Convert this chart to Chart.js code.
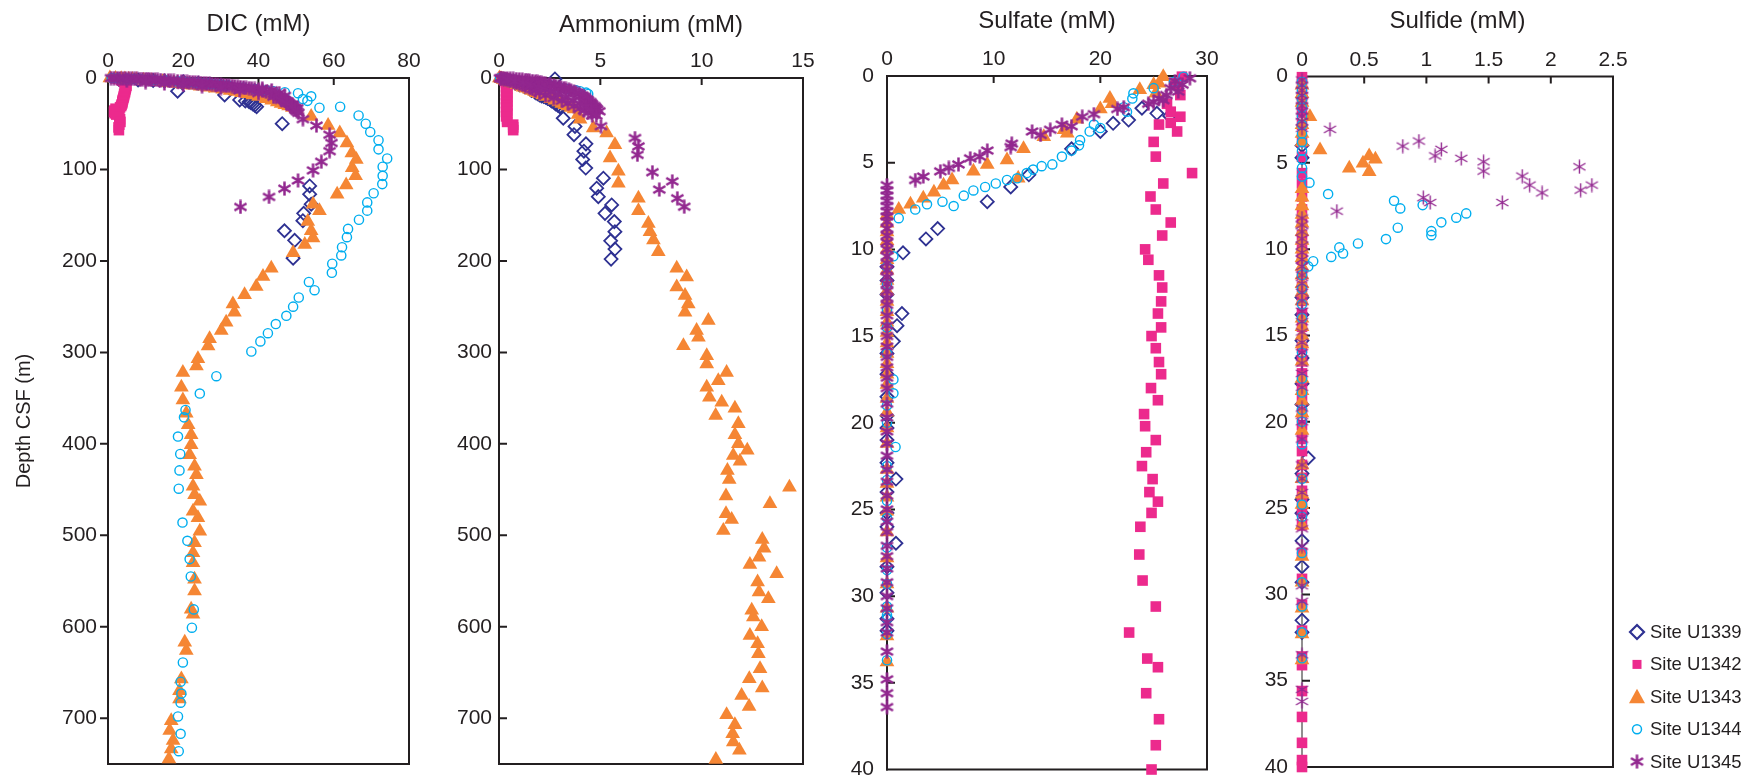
<!DOCTYPE html>
<html>
<head>
<meta charset="utf-8">
<title>Pore-water profiles, Sites U1339–U1345</title>
<script src="https://cdn.jsdelivr.net/npm/chart.js@4.4.1/dist/chart.umd.min.js"></script>
<style>
  html, body { margin: 0; padding: 0; background: #ffffff; overflow: hidden; }
  #wrap { position: relative; width: 1748px; height: 779px; }
  #wrap canvas { position: absolute; left: 0; top: 0; }
</style>
</head>
<body>
<div id="wrap">
  <canvas id="cDic" width="1748" height="779"></canvas>
  <canvas id="cNh4" width="1748" height="779"></canvas>
  <canvas id="cSo4" width="1748" height="779"></canvas>
  <canvas id="cH2s" width="1748" height="779"></canvas>
</div>
<script>
// ---------------------------------------------------------------
// Sites and tick labels
// ---------------------------------------------------------------
const sites = ['Site U1339', 'Site U1342', 'Site U1343', 'Site U1344', 'Site U1345'];

const dicTicks = [0, 20, 40, 60, 80];
const nh4Ticks = [0, 5, 10, 15];
const so4Ticks = [0, 10, 20, 30];
const h2sTicks = [0, 0.5, 1, 1.5, 2, 2.5];
const deepDepthTicks = [0, 100, 200, 300, 400, 500, 600, 700];
const shallowDepthTicks = [0, 5, 10, 15, 20, 25, 30, 35, 40];

// ---------------------------------------------------------------
// Measurements as [concentration (mM), depth CSF (m)]
// ---------------------------------------------------------------

// DIC (mM)
const dicU1339 = [[3,1.86],[8,2.15],[12,2.73],[15,3.2],[20,4.2],[24,5.7],[27,7.25],[30,8.8],[32,10.2],[18.5,14.4],[31,18.5],[35,24],[36.5,25.2],[37.5,26],[38,27],[38.5,28.3],[39,29.8],[39.5,31.3],[46.3,50],[53.6,118],[53.6,127],[54,138],[52,148],[51.8,156],[46.9,167],[49.6,177.5],[49.2,197]];
const dicU1342 = [[2.0,0.04],[2.5,0.42],[3.0,1.1],[3.5,2.06],[3.8,2.8],[4.2,3.8],[4.5,4.65],[4.7,5.6],[4.8,6.95],[4.9,8.45],[4.8,10],[4.7,11.5],[4.6,13],[4.5,14.5],[4.5,15.7],[4.3,17.2],[4.3,18.7],[4.2,20.2],[4.1,21.7],[4.0,23.25],[3.9,24.55],[3.8,26],[3.8,27.6],[3.6,29.1],[3.5,30.6],[3.2,32.1],[2.0,33.6],[1.7,35.6],[1.6,37.1],[1.8,38.6],[2.2,40],[3.0,42],[3.2,45],[3.3,48],[3.0,51],[2.8,54],[2.9,57]];
const dicU1343 = [[0.5,0.04],[2,0.42],[3.5,0.8],[4.5,1.0],[5.5,1.3],[6.5,1.6],[7.5,1.9],[9.5,2.5],[11.5,3.1],[12.5,3.5],[14.5,4.2],[16,4.85],[17.5,5.5],[18.5,6.0],[20,6.7],[21.5,7.4],[22.5,8.0],[24.5,9.0],[26.5,10],[28.5,11.2],[30.5,12.4],[32.5,13.6],[34,14.8],[35.5,16],[37,17.2],[38.5,18.6],[40,20.3],[42,22.7],[43.5,24.3],[45,26.3],[46,27.8],[47,29.3],[48,30.7],[49,32.3],[50,33.8],[54,42],[58.5,52],[61.6,60],[63.5,71],[64.8,82],[66,89],[64.9,98],[65.8,107],[63.3,117],[60.9,127],[54.5,138],[56.2,145],[53.1,157],[54,167],[54.5,175],[52.3,182],[49.2,191],[43.4,208],[41.2,217],[39.4,228],[36.3,237],[33.2,247],[33.6,256],[31.4,267],[30.1,276],[27,285],[26.6,293],[23.9,307],[23.5,315],[19.9,322],[19.5,338],[19.9,352],[20.8,366.5],[21.3,379],[22.1,390],[22.1,401],[21.7,412],[23,424.6],[23.5,433.7],[22.6,446.4],[23,455.5],[24.4,462.7],[22.6,473.6],[23.9,480.9],[24.4,495.4],[23,508.1],[22.6,519],[22.6,529.9],[23,548],[23,560.8],[22.1,580.7],[22.6,586.2],[20.4,617],[20.8,626],[19.5,657],[19,670],[19,679],[16.8,702.6],[16.4,713.5],[17.3,724.4],[16.8,733.5],[16.2,744.4]];
const dicU1344 = [[1,0.04],[2.5,0.33],[5,0.7],[7,1.0],[9,1.3],[11,1.8],[12.5,2.06],[15,2.8],[16,3.0],[18.5,3.7],[19.5,4.0],[20.5,4.3],[21.5,4.65],[23,5.1],[24,5.4],[25.5,5.9],[26.5,6.2],[27.5,6.6],[28.5,6.9],[29.5,7.25],[30.5,7.7],[32,8.2],[36,10.4],[39,12],[42,13.5],[44,14.5],[47,15.5],[50.5,16.6],[54,20],[51.8,23],[53,25],[56.2,32.5],[61.7,31.4],[66.6,41],[68.5,50],[69.7,59],[71.9,68],[71.9,78],[74.2,88],[73,97],[73,107],[72.9,116],[70.6,126],[68.9,136],[68.9,145],[66.7,155],[63.8,165],[63.5,174],[62.2,185],[62,194],[59.6,203],[59.5,213],[53.4,223],[54.9,232],[50.7,240],[49.2,250],[47.4,260],[44.6,269],[42.5,279],[40.5,288],[38.1,299],[28.8,326],[24.4,345],[20.6,363],[20.2,371],[18.6,392],[19.2,411],[19,429],[18.8,449],[19.8,486],[21.1,506],[21.7,526],[22,545],[22.8,581],[22.3,601],[19.9,639],[19.3,660],[19.5,673],[19.3,683],[18.6,698],[19.3,717],[18.8,736]];
const dicU1345 = [[0.8,0.13],[2.5,0.3],[4,0.5],[5.5,0.7],[7,0.9],[8.5,1.1],[10,1.3],[11,1.5],[12.5,1.8],[14,2.2],[16,2.8],[17.5,3.2],[19.5,3.9],[21,4.3],[22.5,4.75],[24,5.3],[25.5,5.8],[27,6.3],[28.5,6.9],[30,7.5],[31.5,8.1],[33,8.8],[34.5,9.6],[36,10.4],[37.5,11.2],[39,12],[40,12.8],[41,13.8],[42,15],[43,16.2],[44,17.4],[44.8,18.9],[45.5,20.5],[46.2,21.9],[46.8,23.4],[47.3,25],[47.8,26.3],[48.2,27.7],[48.7,29.2],[49.1,30.7],[49.5,32.1],[49.8,33.2],[50,34.8],[50.2,36.4],
  [1.6,0.2],[3.2,0.4],[4.7,0.6],[6.2,0.8],[7.7,1.0],[9.2,1.2],[10.5,1.4],[11.7,1.65],[13.2,2.0],[15,2.5],[16.7,3.0],[18.5,3.5],[20.2,4.1],[21.7,4.5],[23.2,5.0],[24.7,5.5],[26.2,6.0],[27.7,6.6],[29.2,7.2],[30.7,7.8],[32.2,8.4],[33.7,9.2],[35.2,10],[36.7,10.8],[38.2,11.6],
  [5,3],[10,4.5],[15,6],[20,7.5],[25,9],[30,11],[35,13.5],[40,16.5],[44,20.5],[47,25],[49,29],[50.3,33],
  [41,11.5],[43.5,13.5],[45.5,16.5],[47,19.5],[46,24],[47.5,27.5],[48.8,31],[49.8,34.5],[50.6,38],[51.8,45],[55.4,52],[58.9,62],[59.4,71],[58.9,80],[56.7,91.5],[54.5,101],[50.5,112],[46.9,121],[42.8,130],[35.2,141]];

// Ammonium (mM)
const nh4U1339 = [[2.76,1.0],[0.3,1.86],[0.45,2.73],[0.6,4.2],[0.8,5.7],[1.0,7.25],[1.25,9.4],[1.6,13.7],[1.8,16],[1.9,17.2],[2.0,18.5],[2.1,19.6],[2.2,20.3],[2.3,21],[2.4,22.3],[2.5,23.25],[2.55,24],[2.6,25.2],[2.7,26],[2.75,26.95],[2.8,28.3],[2.9,29.8],[3.0,31.3],[3.05,32],[3.17,44],[3.75,53],[3.7,62],[4.29,72],[4.19,80],[4.13,89],[4.28,98.5],[5.15,109.5],[4.82,120.5],[4.9,129.7],[5.56,138.8],[5.23,148],[5.69,157],[5.72,168],[5.51,178],[5.72,187],[5.53,198]];
const nh4U1342 = [[0.15,0.04],[0.2,0.42],[0.25,1.1],[0.3,2.06],[0.3,2.8],[0.35,3.8],[0.35,4.65],[0.35,5.6],[0.4,6.95],[0.4,8.45],[0.35,10],[0.4,11.5],[0.4,13],[0.35,14.5],[0.4,15.7],[0.4,17.2],[0.35,18.7],[0.4,20.2],[0.4,21.7],[0.35,23.25],[0.4,24.55],[0.4,26],[0.35,27.6],[0.4,29.1],[0.4,30.6],[0.35,32.1],[0.4,33.6],[0.4,35.6],[0.35,37.1],[0.4,38.6],[0.4,40],[0.35,42],[0.4,45],[0.4,48],[0.7,51],[0.7,54],[0.7,57]];
const nh4U1343 = [[0.02,0.04],[0.1,0.8],[0.2,1.6],[0.3,2.5],[0.45,3.5],[0.6,4.85],[0.75,6.0],[0.9,7.4],[1.1,9.0],[1.2,10],[1.35,11.2],[1.5,12.4],[1.6,13.6],[1.75,14.8],[1.85,16],[2.0,17.2],[2.15,18.6],[2.3,20.3],[2.55,22.7],[2.75,24.3],[2.95,26.3],[3.1,27.8],[3.25,29.3],[3.4,30.7],[3.55,32.3],[3.7,33.8],[3.9,40],[4.0,45],[4.65,54.6],[5.31,60],[5.72,73],[5.48,87.5],[5.89,102],[5.89,115],[6.88,131.5],[6.88,145],[7.37,159],[7.45,168],[7.62,177],[7.86,190],[8.77,208],[9.26,217.6],[8.77,228.6],[9.18,237.7],[9.34,247],[9.18,256],[10.33,265],[9.75,276],[9.84,283.5],[9.1,292.7],[10.25,303.7],[10.25,312.8],[11.23,322],[10.82,331],[10.25,338.2],[10.38,349],[10.99,354.5],[11.64,361],[10.69,369],[11.81,378],[11.64,390],[11.81,400],[12.25,407],[11.56,412.7],[11.89,419],[11.27,429],[11.36,439],[14.33,447.3],[11.2,457],[13.37,465.6],[11.2,476.5],[11.48,482.7],[11.07,494.7],[12.99,504.5],[13.08,514],[12.83,524],[12.38,532],[13.7,542],[12.76,551],[12.83,562],[13.29,569.4],[12.47,582],[12.55,589.4],[12.96,600],[12.38,609.4],[12.76,618.6],[12.8,629.5],[12.88,645.9],[12.35,656.8],[12.99,667],[11.97,675],[12.34,687],[11.23,696.2],[11.64,707],[11.53,717],[11.56,726],[11.86,735],[10.7,745]];
const nh4U1344 = [[0.05,0.04],[0.3,0.7],[0.5,1.3],[0.75,2.06],[1.0,3.0],[1.3,4.0],[1.5,4.65],[1.7,5.4],[1.95,6.2],[2.15,6.9],[2.4,7.7],[2.55,8.2],[3.0,10.4],[3.4,12],[3.8,13.5],[4.0,14.5],[4.3,16],[4.4,17.5]];
const nh4U1345 = [[0.1,0.13],[0.4,0.5],[0.7,0.9],[1.0,1.5],[1.3,2.2],[1.5,2.8],[1.8,3.9],[2.0,4.75],[2.2,5.8],[2.45,6.9],[2.7,8.1],[2.95,9.6],[3.2,11.2],[3.45,12.8],[3.7,15],[3.95,17.4],[4.2,20.5],[4.35,23.4],[4.5,26.3],[4.6,29.2],[4.75,32.1],[4.85,34.8],[4.95,36.4],
  [0.25,0.3],[0.55,0.7],[0.85,1.2],[1.15,1.8],[1.4,2.5],[1.65,3.3],[1.9,4.3],[2.1,5.2],[2.3,6.3],[2.55,7.5],[2.8,8.8],[3.05,10.4],[3.3,12],[3.55,13.8],[3.8,16.2],[4.1,19],[4.25,22],[4.4,25],[4.55,27.7],[4.7,30.7],[4.8,33.5],
  [0.05,0.3],[0.15,0.7],[0.25,1.1],[0.35,1.8],[0.55,3.2],[0.7,4.3],[0.85,5.3],[1.0,6.3],[1.15,7.5],[1.3,8.8],[1.5,10.4],[1.65,12],[1.8,13.8],[2.0,16.2],[2.3,18.9],[2.7,21.9],[3.1,25],[3.4,27.7],[3.7,30.7],[4.0,33.2],[4.2,35.5],[4.4,38],[4.6,41],
  [0.45,2.2],[0.8,3.8],[1.2,5.5],[1.6,7.8],[1.95,10],[2.25,12.5],[2.55,15],[2.9,18],[3.3,21],[3.65,24.5],[4.0,28],[4.3,31.5],[4.55,36],[4.8,41],[5.03,52.7],[6.71,65.6],[6.88,74.7],[6.83,84],[7.57,103],[8.55,113],[7.91,122],[8.8,131.5],[9.14,140.7]];

// Sulfate (mM)
const so4U1339 = [[23.9,1.86],[25.3,2.15],[26.5,2.3],[22.65,2.54],[21.2,2.73],[20,3.2],[17.3,4.2],[13.3,5.7],[11.6,6.4],[9.4,7.25],[4.75,8.8],[3.65,9.4],[1.5,10.2],[0,11.0],[0,11.8],[0,12.6],[1.4,13.7],[0.94,14.4],[0.6,15.3],[0,16],[0,17.2],[0,18.5],[0,19.6],[0,20.3],[0,21],[0,22.3],[0.84,23.25],[0,24],[0,25.2],[0,26],[0.84,26.95],[0,28.3],[0,29.8],[0,31.3],[0,32]];
const so4U1342 = [[27.65,0.04],[26.9,0.42],[27.2,0.5],[27.5,1.1],[26.25,1.6],[26.6,2.06],[27.5,2.35],[25.5,2.8],[26.6,2.7],[27.2,3.2],[25.0,3.8],[25.2,4.65],[28.6,5.6],[25.9,6.2],[24.7,6.95],[25.2,7.7],[26.6,8.45],[25.8,9.2],[24.2,10.0],[24.5,10.6],[25.5,11.5],[25.8,12.2],[25.7,13.0],[25.4,13.7],[25.7,14.5],[24.8,15.0],[25.2,15.7],[25.5,16.5],[25.7,17.2],[24.75,18.0],[25.4,18.7],[24.1,19.5],[24.2,20.2],[25.2,21.0],[24.3,21.7],[23.9,22.5],[24.9,23.25],[24.6,24.0],[25.4,24.55],[24.8,25.2],[23.75,26.0],[23.65,27.6],[23.96,29.1],[25.2,30.6],[22.7,32.1],[24.4,33.6],[25.4,34.1],[24.3,35.6],[25.5,37.1],[25.2,38.6],[24.8,40.0]];
const so4U1343 = [[25.9,0.04],[25.5,0.42],[25,0.5],[23.7,0.8],[25.2,1.0],[20.9,1.3],[21.1,1.6],[20,1.9],[17.8,2.5],[16.6,3.1],[16.9,3.3],[14.7,3.5],[12.8,4.2],[11.25,4.85],[9.4,5.1],[8.1,5.5],[12.3,5.9],[6.1,6.0],[5.3,6.3],[4.4,6.7],[3.4,7.05],[2.2,7.4],[1.1,7.7],[0,8.0],[0,8.5],[0,9.0],[0,9.5],[0,10],[0,10.6],[0,11.2],[0,11.8],[0,12.4],[0,13],[0,13.6],[0,14.2],[0,14.8],[0,15.4],[0,16],[0,16.6],[0,17.2],[0,17.8],[0,18.6],[0,19.4],[0,20.3],[0,21.2],[0,22.7],[0,23.5],[0,24.3],[0,25.1],[0,26.3],[0,27.8],[0,29.3],[0,30.7],[0,32.3],[0,33.8]];
const so4U1344 = [[27.8,0.04],[26.9,0.33],[25,0.7],[23.1,1.0],[23,1.3],[22.2,1.8],[22.5,2.06],[19.4,2.8],[20,3.0],[19,3.2],[18.1,3.7],[18,4.0],[17.3,4.3],[16.4,4.65],[15.5,5.1],[14.5,5.2],[13.7,5.4],[13.1,5.6],[12.2,5.9],[11.25,6.0],[10.2,6.2],[9.2,6.4],[8.1,6.6],[7.2,6.9],[5.2,7.25],[3.75,7.4],[6.25,7.5],[2.65,7.7],[1.1,8.2],[0.6,10.4],[0,11],[0,12],[0,13.5],[0,14.5],[0,16],[0.6,17.5],[0.6,18.3],[0,19],[0,20],[0.8,21.4],[0,22.5],[0,23.3],[0,24.5],[0,25.5],[0,27.2],[0,28.5],[0,29.3],[0,30.6],[0,31.1],[0,31.3],[0,32.2],[0,33.7]];
const so4U1345 = [[28.4,0.13],[27,0.3],[27.7,0.5],[26.6,0.7],[27.3,0.9],[26.2,1.1],[25.5,1.3],[25.9,1.4],[25,1.5],[24.5,1.6],[22.2,1.8],[21.6,1.9],[19.4,2.2],[18.3,2.35],[16.4,2.8],[17.3,2.9],[15.3,3.1],[13.6,3.2],[14.4,3.4],[11.7,3.9],[11.6,4.1],[9.4,4.3],[8.7,4.65],[7.8,4.75],[6.7,5.1],[5.8,5.3],[5,5.5],[3.4,5.8],[2.65,6.0],[0,6.3],[0,6.6],[0,6.9],[0,7.2],[0,7.5],[0,7.8],[0,8.1],[0,8.4],[0,8.8],[0,9.2],[0,9.6],[0,10],[0,10.4],[0,10.8],[0,11.2],[0,11.6],[0,12],[0,12.4],[0,12.8],[0,13.2],[0,13.8],[0,14.4],[0,15],[0,15.6],[0,16.2],[0,16.8],[0,17.4],[0,18],[0,18.9],[0,19.7],[0,20.5],[0,21.2],[0,21.9],[0,22.7],[0,23.4],[0,24.2],[0,25],[0,25.7],[0,26.3],[0,27.1],[0,27.7],[0,28.4],[0,29.2],[0,30],[0,30.7],[0,31.5],[0,32.1],[0,33.2],[0,34.8],[0,35.6],[0,36.4]];

// Sulfide (mM)
const h2sU1339 = [[0,4.0],[0,4.7],[0,12.8],[0,13.8],[0,15.3],[0,16.3],[0,17.8],[0,19.0],[0.05,22.1],[0,23.0],[0,24.5],[0,25.3],[0,26.9],[0,28.4],[0,29.3],[0,31.5],[0,32.2]];
const h2sU1342 = [[0,0.04],[0,0.42],[0,1.1],[0,1.6],[0,2.06],[0,2.8],[0,3.8],[0,4.65],[0,5.6],[0,6.2],[0,6.95],[0,7.7],[0,8.45],[0,9.2],[0,10],[0,10.6],[0,11.5],[0,12.2],[0,13],[0,13.7],[0,14.5],[0,15.7],[0,16.5],[0,17.2],[0,18],[0,18.7],[0,19.5],[0,20.2],[0,21],[0,21.7],[0,22.5],[0,23.25],[0,24],[0,24.55],[0,25.2],[0,26],[0,27.6],[0,29.1],[0,30.6],[0,32.1],[0,33.6],[0,34.1],[0,35.6],[0,37.1],[0,38.6],[0,39.6],[0,40]];
const h2sU1343 = [[0,0.5],[0,1.0],[0,1.5],[0.064,2.33],[0,2.8],[0,3.3],[0,3.8],[0.145,4.26],[0.54,4.6],[0.59,4.8],[0.49,5.03],[0.38,5.32],[0.54,5.52],[0,6.5],[0,7.0],[0,7.5],[0,8.0],[0,8.5],[0,9.0],[0,9.5],[0,10],[0,10.5],[0,11],[0,11.5],[0,12],[0,12.5],[0,13],[0,14],[0,14.5],[0,15],[0,15.5],[0,16.5],[0,17.5],[0,18.2],[0,18.8],[0,19.5],[0,20.5],[0,22.5],[0,23.3],[0,24.2],[0,24.8],[0,26],[0,27.8],[0,29.3],[0,30.8],[0,32.3],[0,33.8]];
const h2sU1344 = [[0,0.3],[0,0.8],[0,1.3],[0,1.8],[0,2.3],[0,2.8],[0,3.3],[0,3.8],[0,4.3],[0,4.8],[0,5.3],[0,5.8],[0.06,6.15],[0.21,6.81],[0.74,7.2],[0.97,7.45],[0.79,7.64],[1.32,7.93],[1.24,8.18],[1.12,8.45],[0.77,8.76],[1.04,8.96],[1.04,9.19],[0.675,9.42],[0.45,9.67],[0.30,9.9],[0.33,10.25],[0.235,10.45],[0.09,10.7],[0.05,11.0],[0,11.5],[0,12.3],[0,13.2],[0,14.0],[0,16.0],[0,17.5],[0,18.3],[0,19.3],[0,20.0],[0,21.3],[0,23.3],[0,24.8],[0,25.5],[0,27.6],[0,29.3],[0,30.7],[0,32.2],[0,33.7]];
const h2sU1345 = [[0,0.2],[0,0.5],[0,0.8],[0,1.1],[0,1.4],[0,1.7],[0,2.0],[0,2.3],[0,2.6],[0,3.0],[0.225,3.06],[0.94,3.74],[0.81,4.03],[1.12,4.22],[1.07,4.6],[1.28,4.74],[1.46,4.94],[2.23,5.23],[1.46,5.48],[1.77,5.77],[1.83,6.29],[2.33,6.29],[2.24,6.58],[1.93,6.74],[0.975,7.02],[1.03,7.3],[1.61,7.3],[0.28,7.8],[0,8.2],[0,8.6],[0,9.0],[0,9.4],[0,9.8],[0,10.2],[0,10.6],[0,11.0],[0,11.5],[0,12.0],[0,12.5],[0,13.0],[0,13.6],[0,14.2],[0,14.8],[0,15.4],[0,16.0],[0,16.6],[0,17.2],[0,18.0],[0,19.2],[0,20.0],[0,21.0],[0,22.5],[0,23.3],[0,24.1],[0,25.5],[0,26.2],[0,27.2],[0,29.5],[0,30.4],[0,33.5],[0,35.5],[0,36.2]];

// ---------------------------------------------------------------
// Styling
// ---------------------------------------------------------------
const PAGE_W = 1748, PAGE_H = 779;
const INK = '#231f20';
const FONT = "'Liberation Sans', Arial, Helvetica, sans-serif";
const siteColors = ['#2e3192', '#ec2a8d', '#f58634', '#00aeef', '#92278f'];

// Six-armed asterisk used for Site U1345
function makeStar(color, size, lineWidth) {
  const c = document.createElement('canvas');
  c.width = size; c.height = size;
  const g = c.getContext('2d');
  g.strokeStyle = color;
  g.lineWidth = lineWidth;
  const cx = size / 2, cy = size / 2, arm = size / 2 - 0.5;
  g.beginPath();
  for (let k = 0; k < 3; k++) {
    const a = Math.PI / 2 + k * Math.PI / 3;
    g.moveTo(cx + Math.cos(a) * arm, cy + Math.sin(a) * arm);
    g.lineTo(cx - Math.cos(a) * arm, cy - Math.sin(a) * arm);
  }
  g.stroke();
  return c;
}
const starBold = makeStar(siteColors[4], 15, 2.5);
const starThin = makeStar(siteColors[4], 15, 1.4);

function markerStyle(i, star) {
  switch (i) {
    case 0: return { pointStyle: 'rectRot', pointRadius: 6.5, pointBorderWidth: 1.8, pointBackgroundColor: 'rgba(0,0,0,0)' };
    case 1: return { pointStyle: 'rect', pointRadius: 7.5, pointBorderWidth: 0, pointBackgroundColor: siteColors[1] };
    case 2: return { pointStyle: 'triangle', pointRadius: 8.5, pointBorderWidth: 0, pointBackgroundColor: siteColors[2] };
    case 3: return { pointStyle: 'circle', pointRadius: 4.6, pointBorderWidth: 1.4, pointBackgroundColor: 'rgba(0,0,0,0)' };
    default: return { pointStyle: star, pointRadius: 7, pointBorderWidth: 0, pointBackgroundColor: siteColors[4] };
  }
}

function siteDatasets(series, star) {
  return series.map((pts, i) => Object.assign({
    label: sites[i],
    data: pts.map(([v, d]) => ({ x: v, y: d })),
    showLine: false,
    pointBorderColor: siteColors[i],
    order: series.length - i,   // later sites are drawn on top
    clip: false
  }, markerStyle(i, star)));
}

// Frame, inward x ticks and y tick marks
function framePlugin(cfg) {
  return {
    id: 'frame-' + cfg.id,
    beforeDatasetsDraw(chart) {
      const { ctx, chartArea: a, scales: { x, y } } = chart;
      ctx.save();
      ctx.strokeStyle = INK;
      ctx.lineCap = 'square';
      ctx.lineWidth = 2;
      ctx.beginPath();
      ctx.moveTo(a.left, a.top);
      ctx.lineTo(a.right, a.top);
      ctx.lineTo(a.right, a.bottom);
      ctx.lineTo(a.left, a.bottom);
      ctx.stroke();
      ctx.lineWidth = cfg.leftWidth;
      ctx.beginPath();
      ctx.moveTo(a.left, a.top);
      ctx.lineTo(a.left, a.bottom);
      ctx.stroke();
      ctx.lineWidth = 2;
      ctx.lineCap = 'butt';
      ctx.beginPath();
      x.ticks.forEach(t => {
        const px = x.getPixelForValue(t.value);
        if (px <= a.left + 1 || px >= a.right - 1) return;
        ctx.moveTo(px, a.top);
        ctx.lineTo(px, a.top + 7);
      });
      y.ticks.forEach(t => {
        const py = y.getPixelForValue(t.value);
        if (py <= a.top + 1 || py >= a.bottom - 1) return;
        ctx.moveTo(a.left, py);
        ctx.lineTo(a.left + cfg.yTickDir * 8, py);
      });
      ctx.stroke();
      ctx.restore();
    }
  };
}

// Site key beside the sulfide panel
const legendPlugin = {
  id: 'siteKey',
  afterDraw(chart) {
    const ctx = chart.ctx;
    const mx = 1637, tx = 1650, y0 = 632, step = 32.4;
    ctx.save();
    ctx.font = '18.5px ' + FONT;
    ctx.textBaseline = 'middle';
    ctx.textAlign = 'left';
    sites.forEach((name, i) => {
      const y = y0 + i * step;
      const col = siteColors[i];
      ctx.fillStyle = col;
      ctx.strokeStyle = col;
      ctx.beginPath();
      if (i === 0) {
        ctx.lineWidth = 2.2;
        ctx.moveTo(mx, y - 7); ctx.lineTo(mx + 7, y); ctx.lineTo(mx, y + 7); ctx.lineTo(mx - 7, y); ctx.closePath();
        ctx.stroke();
      } else if (i === 1) {
        ctx.fillRect(mx - 4.5, y - 4.5, 9, 9);
      } else if (i === 2) {
        ctx.moveTo(mx, y - 8); ctx.lineTo(mx + 8, y + 6.5); ctx.lineTo(mx - 8, y + 6.5); ctx.closePath();
        ctx.fill();
      } else if (i === 3) {
        ctx.lineWidth = 1.5;
        ctx.arc(mx, y, 4.5, 0, Math.PI * 2);
        ctx.stroke();
      } else {
        ctx.drawImage(starBold, mx - starBold.width / 2, y - starBold.height / 2);
      }
      ctx.fillStyle = INK;
      ctx.fillText(name, tx, y + 1);
    });
    ctx.restore();
  }
};

function buildPanel(cfg) {
  const a = cfg.area;
  const plugins = [framePlugin(cfg)];
  if (cfg.legend) plugins.push(legendPlugin);
  return new Chart(document.getElementById(cfg.id), {
    type: 'scatter',
    data: { datasets: cfg.datasets },
    plugins,
    options: {
      responsive: false,
      animation: false,
      events: [],
      layout: { padding: { left: 0, top: 0, right: PAGE_W - a.right, bottom: PAGE_H - a.bottom } },
      plugins: { legend: { display: false }, tooltip: { enabled: false }, title: { display: false } },
      scales: {
        x: {
          type: 'linear',
          position: 'top',
          min: cfg.xMin,
          max: cfg.xMax,
          afterBuildTicks: s => { s.ticks = cfg.xTicks.map(v => ({ value: v })); },
          afterFit: s => { s.height = a.top; s.paddingLeft = 0; s.paddingRight = 0; },
          grid: { display: false, drawTicks: false },
          border: { display: false },
          ticks: { padding: 4, autoSkip: false, maxRotation: 0, color: INK,
                   font: { family: FONT, size: 21 }, callback: v => String(v) },
          title: { display: true, text: cfg.title, color: INK,
                   font: { family: FONT, size: 24 }, padding: { top: cfg.titlePad, bottom: 0 } }
        },
        y: {
          type: 'linear',
          position: 'left',
          reverse: true,
          min: 0,
          max: cfg.yMax,
          afterBuildTicks: s => { s.ticks = cfg.yTicks.map(v => ({ value: v })); },
          afterFit: s => { s.width = a.left; s.paddingTop = 0; s.paddingBottom = 0; },
          grid: { display: false, drawTicks: false },
          border: { display: false },
          ticks: { padding: cfg.yLabelGap, autoSkip: false, color: INK,
                   font: { family: FONT, size: 21 }, callback: v => String(v) },
          title: cfg.yTitle
            ? { display: true, text: cfg.yTitle, color: INK, font: { family: FONT, size: 20 }, padding: { top: 12, bottom: 0 } }
            : { display: false }
        }
      }
    }
  });
}

buildPanel({
  id: 'cDic', title: 'DIC (mM)', xMin: 0, xMax: 80, xTicks: dicTicks,
  yMax: 750, yTicks: deepDepthTicks, yTitle: 'Depth CSF (m)',
  area: { left: 108, top: 78, right: 409, bottom: 764 },
  yLabelGap: 11, yTickDir: -1, leftWidth: 2, titlePad: 9.6,
  datasets: siteDatasets([dicU1339, dicU1342, dicU1343, dicU1344, dicU1345], starBold)
});

buildPanel({
  id: 'cNh4', title: 'Ammonium (mM)', xMin: 0, xMax: 15, xTicks: nh4Ticks,
  yMax: 750, yTicks: deepDepthTicks,
  area: { left: 499, top: 78, right: 803, bottom: 764 },
  yLabelGap: 7, yTickDir: 1, leftWidth: 2, titlePad: 10.6,
  datasets: siteDatasets([nh4U1339, nh4U1342, nh4U1343, nh4U1344, nh4U1345], starBold)
});

buildPanel({
  id: 'cSo4', title: 'Sulfate (mM)', xMin: 0, xMax: 30, xTicks: so4Ticks,
  yMax: 40, yTicks: shallowDepthTicks,
  area: { left: 887, top: 76, right: 1207, bottom: 769.5 },
  yLabelGap: 13, yTickDir: 1, leftWidth: 2, titlePad: 6.5,
  datasets: siteDatasets([so4U1339, so4U1342, so4U1343, so4U1344, so4U1345], starBold)
});

buildPanel({
  id: 'cH2s', title: 'Sulfide (mM)', xMin: 0, xMax: 2.5, xTicks: h2sTicks,
  yMax: 40, yTicks: shallowDepthTicks,
  area: { left: 1302, top: 76.5, right: 1613, bottom: 767 },
  yLabelGap: 14, yTickDir: 1, leftWidth: 1, titlePad: 6.5, legend: true,
  datasets: siteDatasets([h2sU1339, h2sU1342, h2sU1343, h2sU1344, h2sU1345], starThin)
});
</script>
</body>
</html>
